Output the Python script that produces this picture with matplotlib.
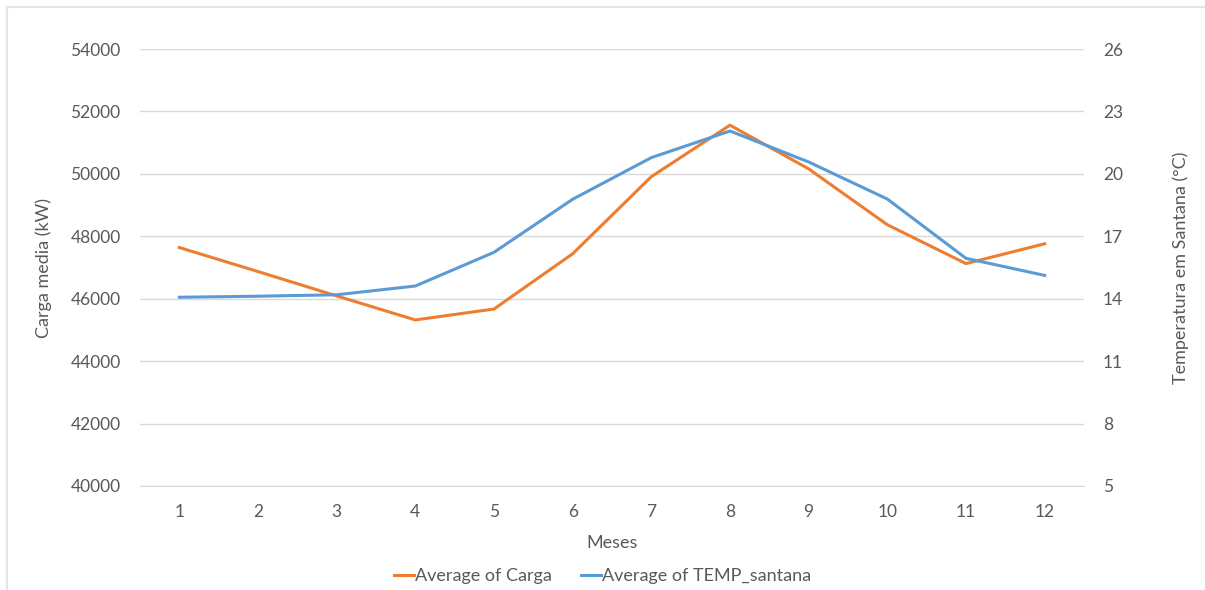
import numpy as np
import matplotlib.pyplot as plt
from matplotlib.lines import Line2D

plt.rcParams['font.family'] = ['Lato', 'DejaVu Sans']

# Medias mensais
meses = [1, 2, 3, 4, 5, 6, 7, 8, 9, 10, 11, 12]
carga = [47640, 46870, 46090, 45320, 45670, 47440, 49910, 51560, 50160, 48370, 47125, 47760]
temp_santana = [14.07, 14.12, 14.19, 14.61, 16.23, 18.78, 20.78, 22.06, 20.57, 18.79, 15.94, 15.12]

cor_carga = '#ED7D31'
cor_temp = '#5B9BD5'
cinza = '#595959'

W, H = 1205, 590
fig = plt.figure(figsize=(W / 100, H / 100), dpi=100)

# area do grafico
x0, x1, y0, y1 = 140, 1084, 49, 486
ax = fig.add_axes([x0 / W, 1 - y1 / H, (x1 - x0) / W, (y1 - y0) / H])
ax2 = ax.twinx()

ax.plot(meses, carga, color=cor_carga, lw=2.2)
ax2.plot(meses, temp_santana, color=cor_temp, lw=2.2)

ax.set_xlim(0.5, 12.5)
ax.set_ylim(40000, 54000)
ax.set_yticks(np.arange(40000, 54001, 2000))
ax2.set_ylim(5, 26)
ax2.set_yticks(np.arange(5, 27, 3))
ax.set_xticks(meses)

ax.grid(axis='y', color='#D9D9D9', lw=1)
ax.set_axisbelow(True)
for a in (ax, ax2):
    for s in a.spines.values():
        s.set_visible(False)
    a.tick_params(length=0, labelsize=12.5, colors=cinza)
ax.spines['bottom'].set_visible(True)
ax.spines['bottom'].set_color('#D9D9D9')
ax.tick_params(axis='y', pad=14)
ax2.tick_params(axis='y', pad=13.5)
ax.tick_params(axis='x', pad=13)

ax.set_ylabel('Carga media (kW)', fontsize=13, color=cinza, labelpad=13)
ax2.set_ylabel('Temperatura em Santana (°C)', fontsize=13, color=cinza, labelpad=36)
ax.set_xlabel('Meses', fontsize=13, color=cinza, labelpad=11)

handles = [Line2D([], [], color=cor_carga, lw=2.2), Line2D([], [], color=cor_temp, lw=2.2)]
leg = fig.legend(handles, ['Average of Carga', 'Average of TEMP_santana'],
                 loc='center', bbox_to_anchor=(0.5, 1 - 576 / H), ncol=2, frameon=False,
                 fontsize=13, handlelength=1.1, handletextpad=0.05, columnspacing=1.6)
for t in leg.get_texts():
    t.set_color(cinza)

# moldura do grafico
fig.add_artist(Line2D([7 / W, 7 / W], [0, 1 - 7 / H], color='#E5E5E5', lw=1.5))
fig.add_artist(Line2D([7 / W, 1], [1 - 7 / H, 1 - 7 / H], color='#E5E5E5', lw=1.5))

fig.savefig('out.png', dpi=100, facecolor='white')
